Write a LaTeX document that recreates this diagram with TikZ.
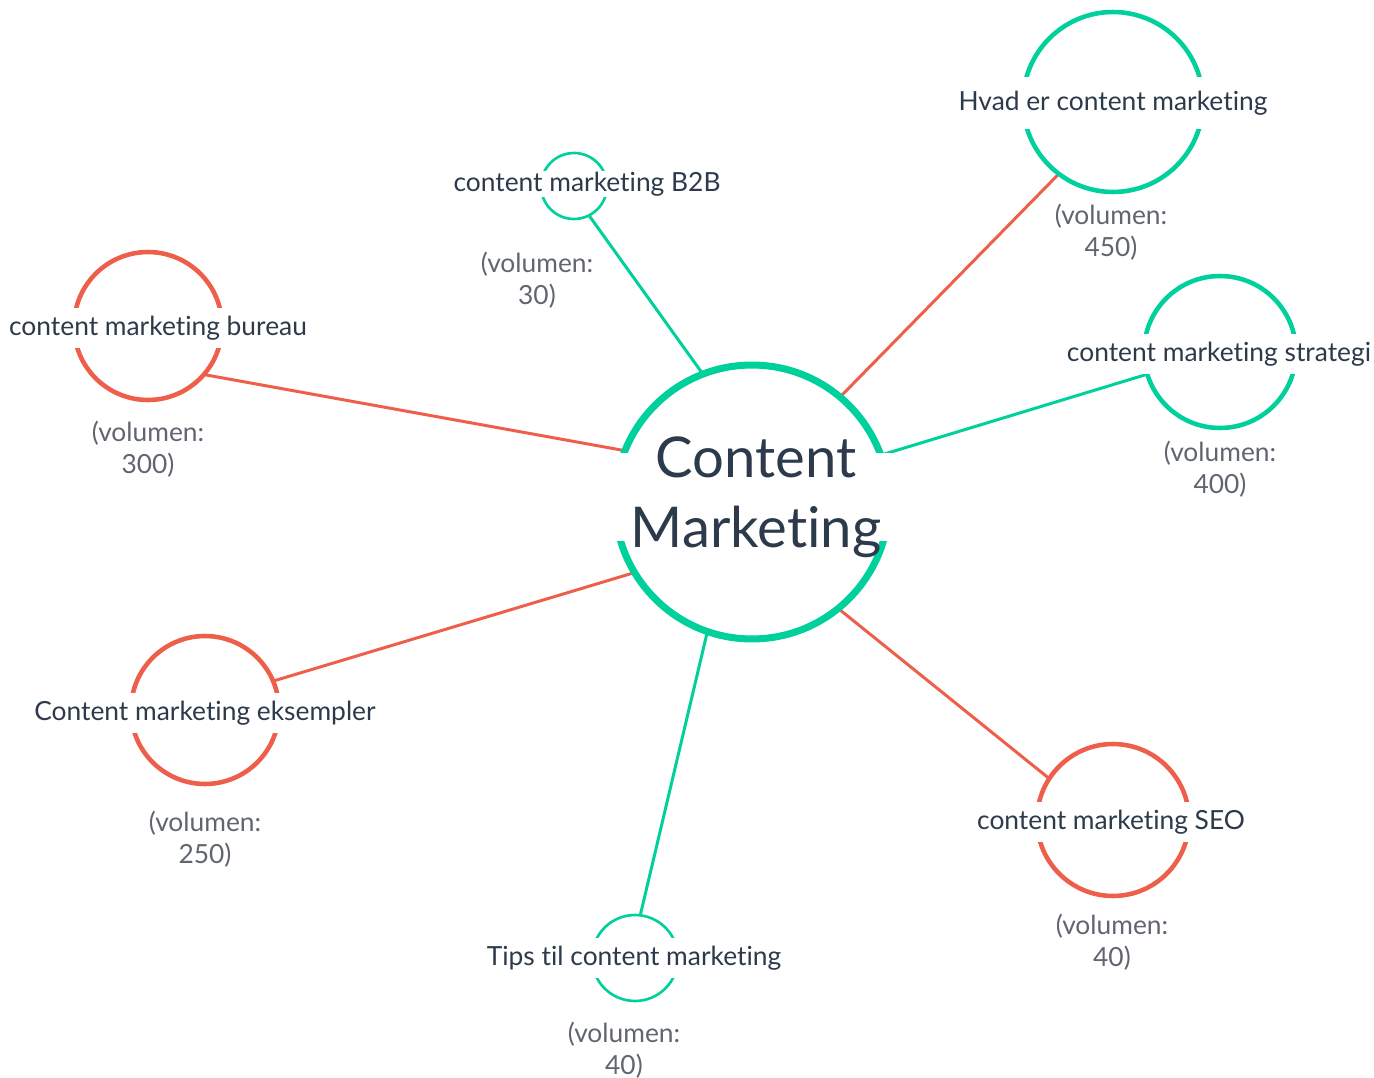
\documentclass[tikz,border=0pt]{standalone}
\usepackage{fontspec}
\setmainfont{Lato}[Ligatures=NoCommon]
\usetikzlibrary{positioning}
\pgfdeclarelayer{background}
\pgfsetlayers{background,main}

\definecolor{mint}{HTML}{00D09C}
\definecolor{coral}{HTML}{EE5F4B}
\definecolor{ink}{HTML}{2D3A4B}
\definecolor{mute}{HTML}{60656F}

\tikzset{
  topic/.style={circle,draw=#1,line width=2.6pt,inner sep=0pt,outer sep=0pt},
  tag/.style={fill=white,text=ink,inner xsep=2pt,inner ysep=0.15cm,font=\fontsize{15}{18}\selectfont},
  vol/.style={text=mute,align=center,font=\fontsize{15}{18.2}\selectfont},
  link/.style={draw=#1,line width=1.7pt}
}

\begin{document}
\begin{tikzpicture}[x=0.02cm,y=-0.02cm]
\useasboundingbox (0,0) rectangle (1374,1078);

% hub
\node[topic=mint,line width=4pt,minimum size=5.48cm] (hub) at (752,502) {};
\node[tag,align=center,inner xsep=0.55cm,inner ysep=-0.33cm,font=\fontsize{32}{40}\selectfont] (hubtag) at (756,497) {Content\\Marketing};

% topics
\node[topic=mint,minimum size=3.6cm] (hvad) at (1113,102) {};
\node[tag,inner ysep=0.27cm] (hvadtag) at (1113,103) {Hvad er content marketing};
\node[vol] (hvadvol) at (1111,232) {(volumen:\\450)};

\node[topic=mint,line width=1.5pt,minimum size=1.32cm] (b2b) at (574,186) {};
\node[tag,inner ysep=0.02cm] (b2btag) at (587,184) {content marketing B2B};
\node[vol] (b2bvol) at (537,280) {(volumen:\\30)};

\node[topic=coral,minimum size=2.96cm] (bureau) at (148,326) {};
\node[tag] (bureautag) at (158,328) {content marketing bureau};
\node[vol] (bureauvol) at (148,449) {(volumen:\\300)};

\node[topic=mint,minimum size=3.04cm] (strategi) at (1220,352) {};
\node[tag] (strategitag) at (1219,354) {content marketing strategi};
\node[vol] (strategivol) at (1220,469) {(volumen:\\400)};

\node[topic=coral,minimum size=2.96cm] (eks) at (205,710) {};
\node[tag] (ekstag) at (205,713) {Content marketing eksempler};
\node[vol] (eksvol) at (205,839) {(volumen:\\250)};

\node[topic=mint,line width=1.5pt,minimum size=1.72cm] (tips) at (635,958) {};
\node[tag] (tipstag) at (634,958) {Tips til content marketing};
\node[vol] (tipsvol) at (624,1050) {(volumen:\\40)};

\node[topic=coral,minimum size=3.04cm] (seo) at (1113,820) {};
\node[tag] (seotag) at (1111,822) {content marketing SEO};
\node[vol] (seovol) at (1112,942) {(volumen:\\40)};

\begin{pgfonlayer}{background}
\draw[link=mint] (hub.111.5) -- (b2b.-63.4);
\draw[link=coral] (hub.50.4) -- (hvad.233.3);
\draw[link=coral] (hub.158.5) -- (bureau.-41.8);
\draw[link=mint] (hub.20.3) -- (strategi.197);
\draw[link=coral] (hub.211.9) -- (eks.23.2);
\draw[link=mint] (hub.251.4) -- (tips.83.4);
\draw[link=coral] (hub.309.3) -- (seo.147.9);
\end{pgfonlayer}
\end{tikzpicture}
\end{document}
